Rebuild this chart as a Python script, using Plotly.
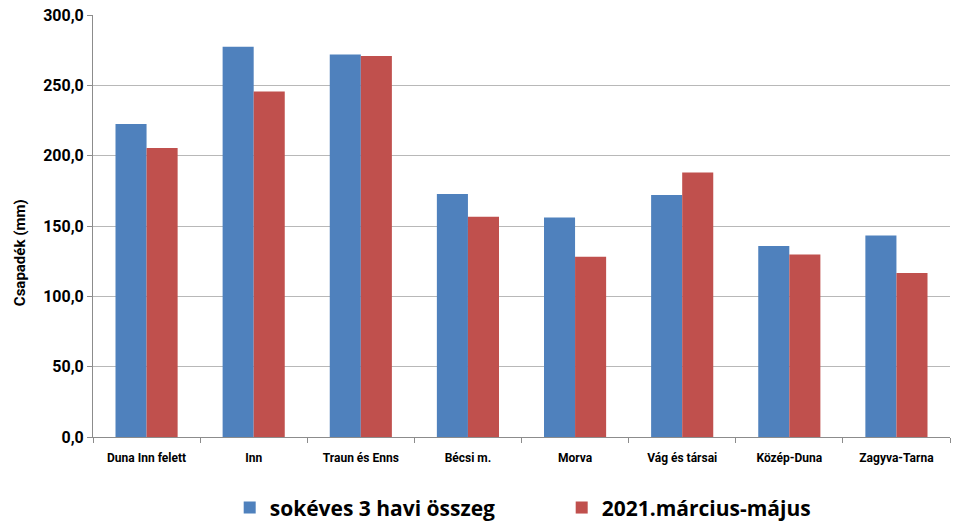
import plotly.graph_objects as go

categories = ["Duna Inn felett", "Inn", "Traun és Enns", "Bécsi m.", "Morva",
              "Vág és társai", "Közép-Duna", "Zagyva-Tarna"]
long_term = [222.5, 277.5, 272.0, 172.7, 156.1, 172.0, 135.7, 143.3]
spring_2021 = [205.4, 245.7, 270.8, 156.5, 128.1, 188.1, 129.8, 116.5]
y_ticks = [0, 50, 100, 150, 200, 250, 300]
y_title = "Csapadék (mm)"

label_font = "Liberation Sans Narrow, Arial Narrow, Roboto, sans-serif"

fig = go.Figure()
fig.add_trace(go.Bar(name="sokéves 3 havi összeg", x=categories, y=long_term,
                     marker=dict(color="#4F81BD", line=dict(width=0))))
fig.add_trace(go.Bar(name="2021.március-május", x=categories, y=spring_2021,
                     marker=dict(color="#C0504D", line=dict(width=0))))

fig.update_layout(
    width=959, height=523,
    margin=dict(l=93, r=9, t=15, b=86, autoexpand=False),
    paper_bgcolor="white", plot_bgcolor="white",
    barmode="group", bargap=0.42, bargroupgap=0,
    separators=",.",
    showlegend=True,
    legend=dict(orientation="h", x=0.1595, xanchor="left", y=-0.168, yanchor="middle",
                font=dict(family="Open Sans, sans-serif", size=21, color="#000", weight="bold"),
                itemwidth=30, traceorder="normal", entrywidth=287),
    font=dict(family=label_font, color="#000"),
)
fig.update_xaxes(
    showline=True, linecolor="#8c8c8c", linewidth=1,
    ticks="outside", tickson="boundaries", ticklen=5, tickcolor="#8c8c8c",
    ticklabelstandoff=10,
    tickfont=dict(family=label_font, size=12, color="#000", weight="bold"),
    showgrid=False,
)
fig.update_yaxes(
    range=[0, 300], tickvals=y_ticks, tickformat=".1f",
    showline=True, linecolor="#8c8c8c", linewidth=1,
    ticks="outside", ticklen=5, tickcolor="#8c8c8c",
    showgrid=True, gridcolor="#b8b8b8", gridwidth=1,
    tickfont=dict(family=label_font, size=16, color="#000", weight="bold"),
    zeroline=False,
)

# Axis title sits slightly below the vertical centre of the plot area
fig.add_annotation(
    text=y_title, textangle=-90, showarrow=False,
    xref="paper", yref="paper", x=-0.0852, y=0.438,
    xanchor="center", yanchor="middle",
    font=dict(family=label_font, size=15, color="#000", weight="bold"),
)

fig.write_html("out.html")
